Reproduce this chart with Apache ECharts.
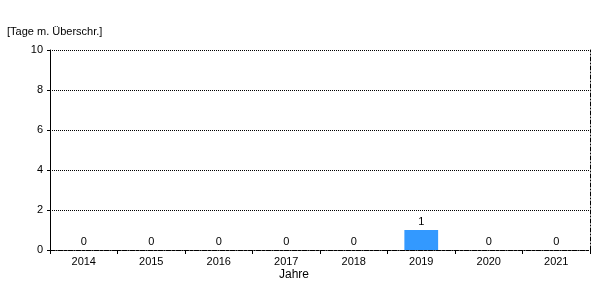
<!DOCTYPE html>
<html><head><meta charset="utf-8">
<script src="https://cdn.jsdelivr.net/npm/echarts@6/dist/echarts.min.js"></script>
<style>html,body{margin:0;padding:0;background:#fff}#c{width:600px;height:300px}</style>
</head><body><div id="c"></div>
<script>
var categories = ['2014','2015','2016','2017','2018','2019','2020','2021'];
var values = [0,0,0,0,0,1,0,0];
var yTicks = [0,2,4,6,8,10];
var unitLabel = '[Tage m. Überschr.]';
var xTitle = 'Jahre';

var font = 'Liberation Sans, Arial, sans-serif';
var dashDot = [4,2,1,2];
var chart = echarts.init(document.getElementById('c'), null, {renderer:'canvas'});
chart.setOption({
  animation:false,
  textStyle:{fontFamily:font},
  grid:{left:50, right:10, top:50, bottom:50, containLabel:false},
  graphic:[
    {type:'text', left:7, top:26, style:{text:unitLabel, font:'11px ' + font, fill:'#000'}},
    {type:'text', left:279, top:269, style:{text:xTitle, font:'12px ' + font, fill:'#000'}}
  ],
  xAxis:[{
    type:'category', data:categories, position:'bottom',
    axisLine:{lineStyle:{color:'#000', type:dashDot, width:1}},
    axisTick:{show:true, length:4, lineStyle:{color:'#000'}},
    axisLabel:{fontSize:11, color:'#000', margin:6, fontFamily:font},
    splitLine:{show:false}
  },{
    type:'category', data:categories, position:'top',
    axisLine:{lineStyle:{color:'#000', type:dashDot, width:1}},
    axisTick:{show:false}, axisLabel:{show:false}
  }],
  yAxis:[{
    type:'value', min:0, max:10, interval:2,
    axisLine:{show:true, lineStyle:{color:'#000', width:1}},
    axisTick:{show:true, length:3, lineStyle:{color:'#000'}},
    axisLabel:{fontSize:11, color:'#000', margin:7, fontFamily:font},
    splitLine:{show:true, lineStyle:{color:'#000', type:[1,1], width:1}}
  },{
    type:'value', min:0, max:10, interval:2, position:'right',
    axisLine:{show:true, lineStyle:{color:'#000', type:dashDot, width:1}},
    axisTick:{show:false}, axisLabel:{show:false}, splitLine:{show:false}
  }],
  series:[{
    type:'bar', data:values, barWidth:'50%', xAxisIndex:0, yAxisIndex:0,
    itemStyle:{color:'#3399FF'},
    label:{show:true, position:'top', distance:3, fontSize:11, color:'#000', fontFamily:font}
  }]
});
</script></body></html>
